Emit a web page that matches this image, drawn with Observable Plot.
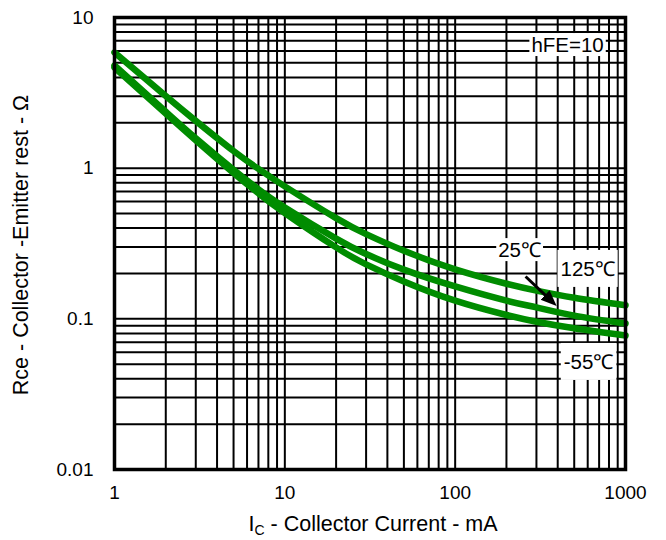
<!DOCTYPE html>
<html><head><meta charset="utf-8">
<script src="https://cdn.jsdelivr.net/npm/d3@7"></script>
<script src="https://cdn.jsdelivr.net/npm/@observablehq/plot@0.6"></script>
<style>
body{margin:0;background:#fff}
#chart svg{font-family:"Liberation Sans",Arial,sans-serif}
</style>
</head><body><div id="chart"></div>
<script>
// Collector current (mA) and Rce (ohm)
const icValues = [1, 2, 3, 5, 7, 10, 20, 30, 50, 100, 200, 300, 500, 1000];
const rce125  = [5.86, 3.01, 2.06, 1.30, 0.989, 0.757, 0.466, 0.365, 0.283, 0.213, 0.171, 0.154, 0.138, 0.123];
const rce25   = [4.80, 2.37, 1.58, 0.976, 0.724, 0.549, 0.341, 0.269, 0.212, 0.164, 0.132, 0.119, 0.105, 0.093];
const rceM55  = [4.66, 2.30, 1.53, 0.929, 0.681, 0.504, 0.298, 0.230, 0.177, 0.132, 0.106, 0.0956, 0.0865, 0.0775];
const seriesNames = ["125℃", "25℃", "-55℃"];

const xTicks = [1, 10, 100, 1000];
const yTicks = [0.01, 0.1, 1, 10];
const gridMultipliers = [1, 2, 3, 4, 5, 6, 7, 8, 9];
const xDecades = [1, 10, 100];
const yDecades = [0.01, 0.1, 1];

const labelTexts = ["hFE=10", "25℃", "125℃", "-55℃"];
const labelIc = [457, 239, 599, 607];
const labelRce = [6.52, 0.284, 0.213, 0.0514];

const arrowIc = [259, 354];
const arrowRce = [0.191, 0.1366];

const xTitle = ["I", "C", " - Collector Current - mA"];
const yTitle = "Rce - Collector -Emitter rest - Ω";

// build tables
const seriesY = [rce125, rce25, rceM55];
const curveData = seriesNames.flatMap((t, s) => icValues.map((x, i) => ({t, ic: x, rce: seriesY[s][i]})));
const xGrid = xDecades.flatMap(d => gridMultipliers.map(m => m * d)).concat([1000]);
const yGrid = yDecades.flatMap(d => gridMultipliers.map(m => +(m * d).toPrecision(3))).concat([10]);
const labels = labelTexts.map((text, i) => ({text, ic: labelIc[i], rce: labelRce[i]}));
const arrow = [{x1: arrowIc[0], y1: arrowRce[0], x2: arrowIc[1], y2: arrowRce[1]}];

const plot = Plot.plot({
  width: 666, height: 540,
  marginLeft: 114, marginRight: 41, marginTop: 17, marginBottom: 71,
  style: {fontFamily: '"Liberation Sans", Arial, sans-serif', fontSize: "19px", color: "black", background: "white"},
  x: {type: "log", domain: [1, 1000], ticks: xTicks, tickFormat: d => String(d), tickSize: 0, tickPadding: 16, label: null},
  y: {type: "log", domain: [0.01, 10], ticks: yTicks, tickFormat: d => String(d), tickSize: 0, tickPadding: 21, label: null},
  marks: [
    Plot.ruleX(xGrid, {stroke: "black", strokeWidth: 2}),
    Plot.ruleY(yGrid, {stroke: "black", strokeWidth: 2}),
    Plot.line(curveData, {x: "ic", y: "rce", z: "t", stroke: "#008c00", strokeWidth: 6.5, curve: "natural"}),
    Plot.link(arrow, {x1: "x1", y1: "y1", x2: "x2", y2: "y2", stroke: "black", strokeWidth: 3}),
    Plot.text(labels, {x: "ic", y: "rce", text: "text", fontSize: 20.5, fill: "black"}),
    Plot.frame({stroke: "black", strokeWidth: 3.5})
  ]
});
document.getElementById("chart").appendChild(plot);

const svg = d3.select(plot);
// white boxes behind annotation labels
const pads = [[2, 0], [2, 0], [3, 7], [3, 7]];
svg.selectAll('g[aria-label="text"] text').each(function(d, i) {
  const b = this.getBBox();
  const p = pads[i] || [2, 0];
  const r = d3.select(this.parentNode).insert("rect", () => this)
    .attr("x", b.x - p[0]).attr("y", b.y - p[1])
    .attr("width", b.width + 2 * p[0]).attr("height", b.height + 2 * p[1])
    .attr("fill", "white");
  const tr = this.getAttribute("transform");
  if (tr) r.attr("transform", tr);
});
// filled arrow head
const defs = svg.append("defs");
defs.append("marker").attr("id", "ahead").attr("markerUnits", "userSpaceOnUse")
  .attr("markerWidth", 18).attr("markerHeight", 14).attr("refX", 5).attr("refY", 6.5).attr("orient", "auto")
  .append("path").attr("d", "M0,0L16,6.5L0,13Z").attr("fill", "black");
svg.selectAll('g[aria-label="link"] path').attr("marker-end", "url(#ahead)");

// axis titles
svg.append("text").attr("transform", "translate(22,245) rotate(-90)")
  .attr("text-anchor", "middle").attr("dominant-baseline", "middle")
  .attr("font-size", 21.5).attr("fill", "black").text(yTitle);
const xt = svg.append("text").attr("x", 373).attr("y", 531).attr("text-anchor", "middle")
  .attr("font-size", 21.5).attr("fill", "black");
xt.append("tspan").text(xTitle[0]);
xt.append("tspan").attr("font-size", 14).attr("dy", 4).text(xTitle[1]);
xt.append("tspan").attr("dy", -4).text(xTitle[2]);
</script>
</body></html>
